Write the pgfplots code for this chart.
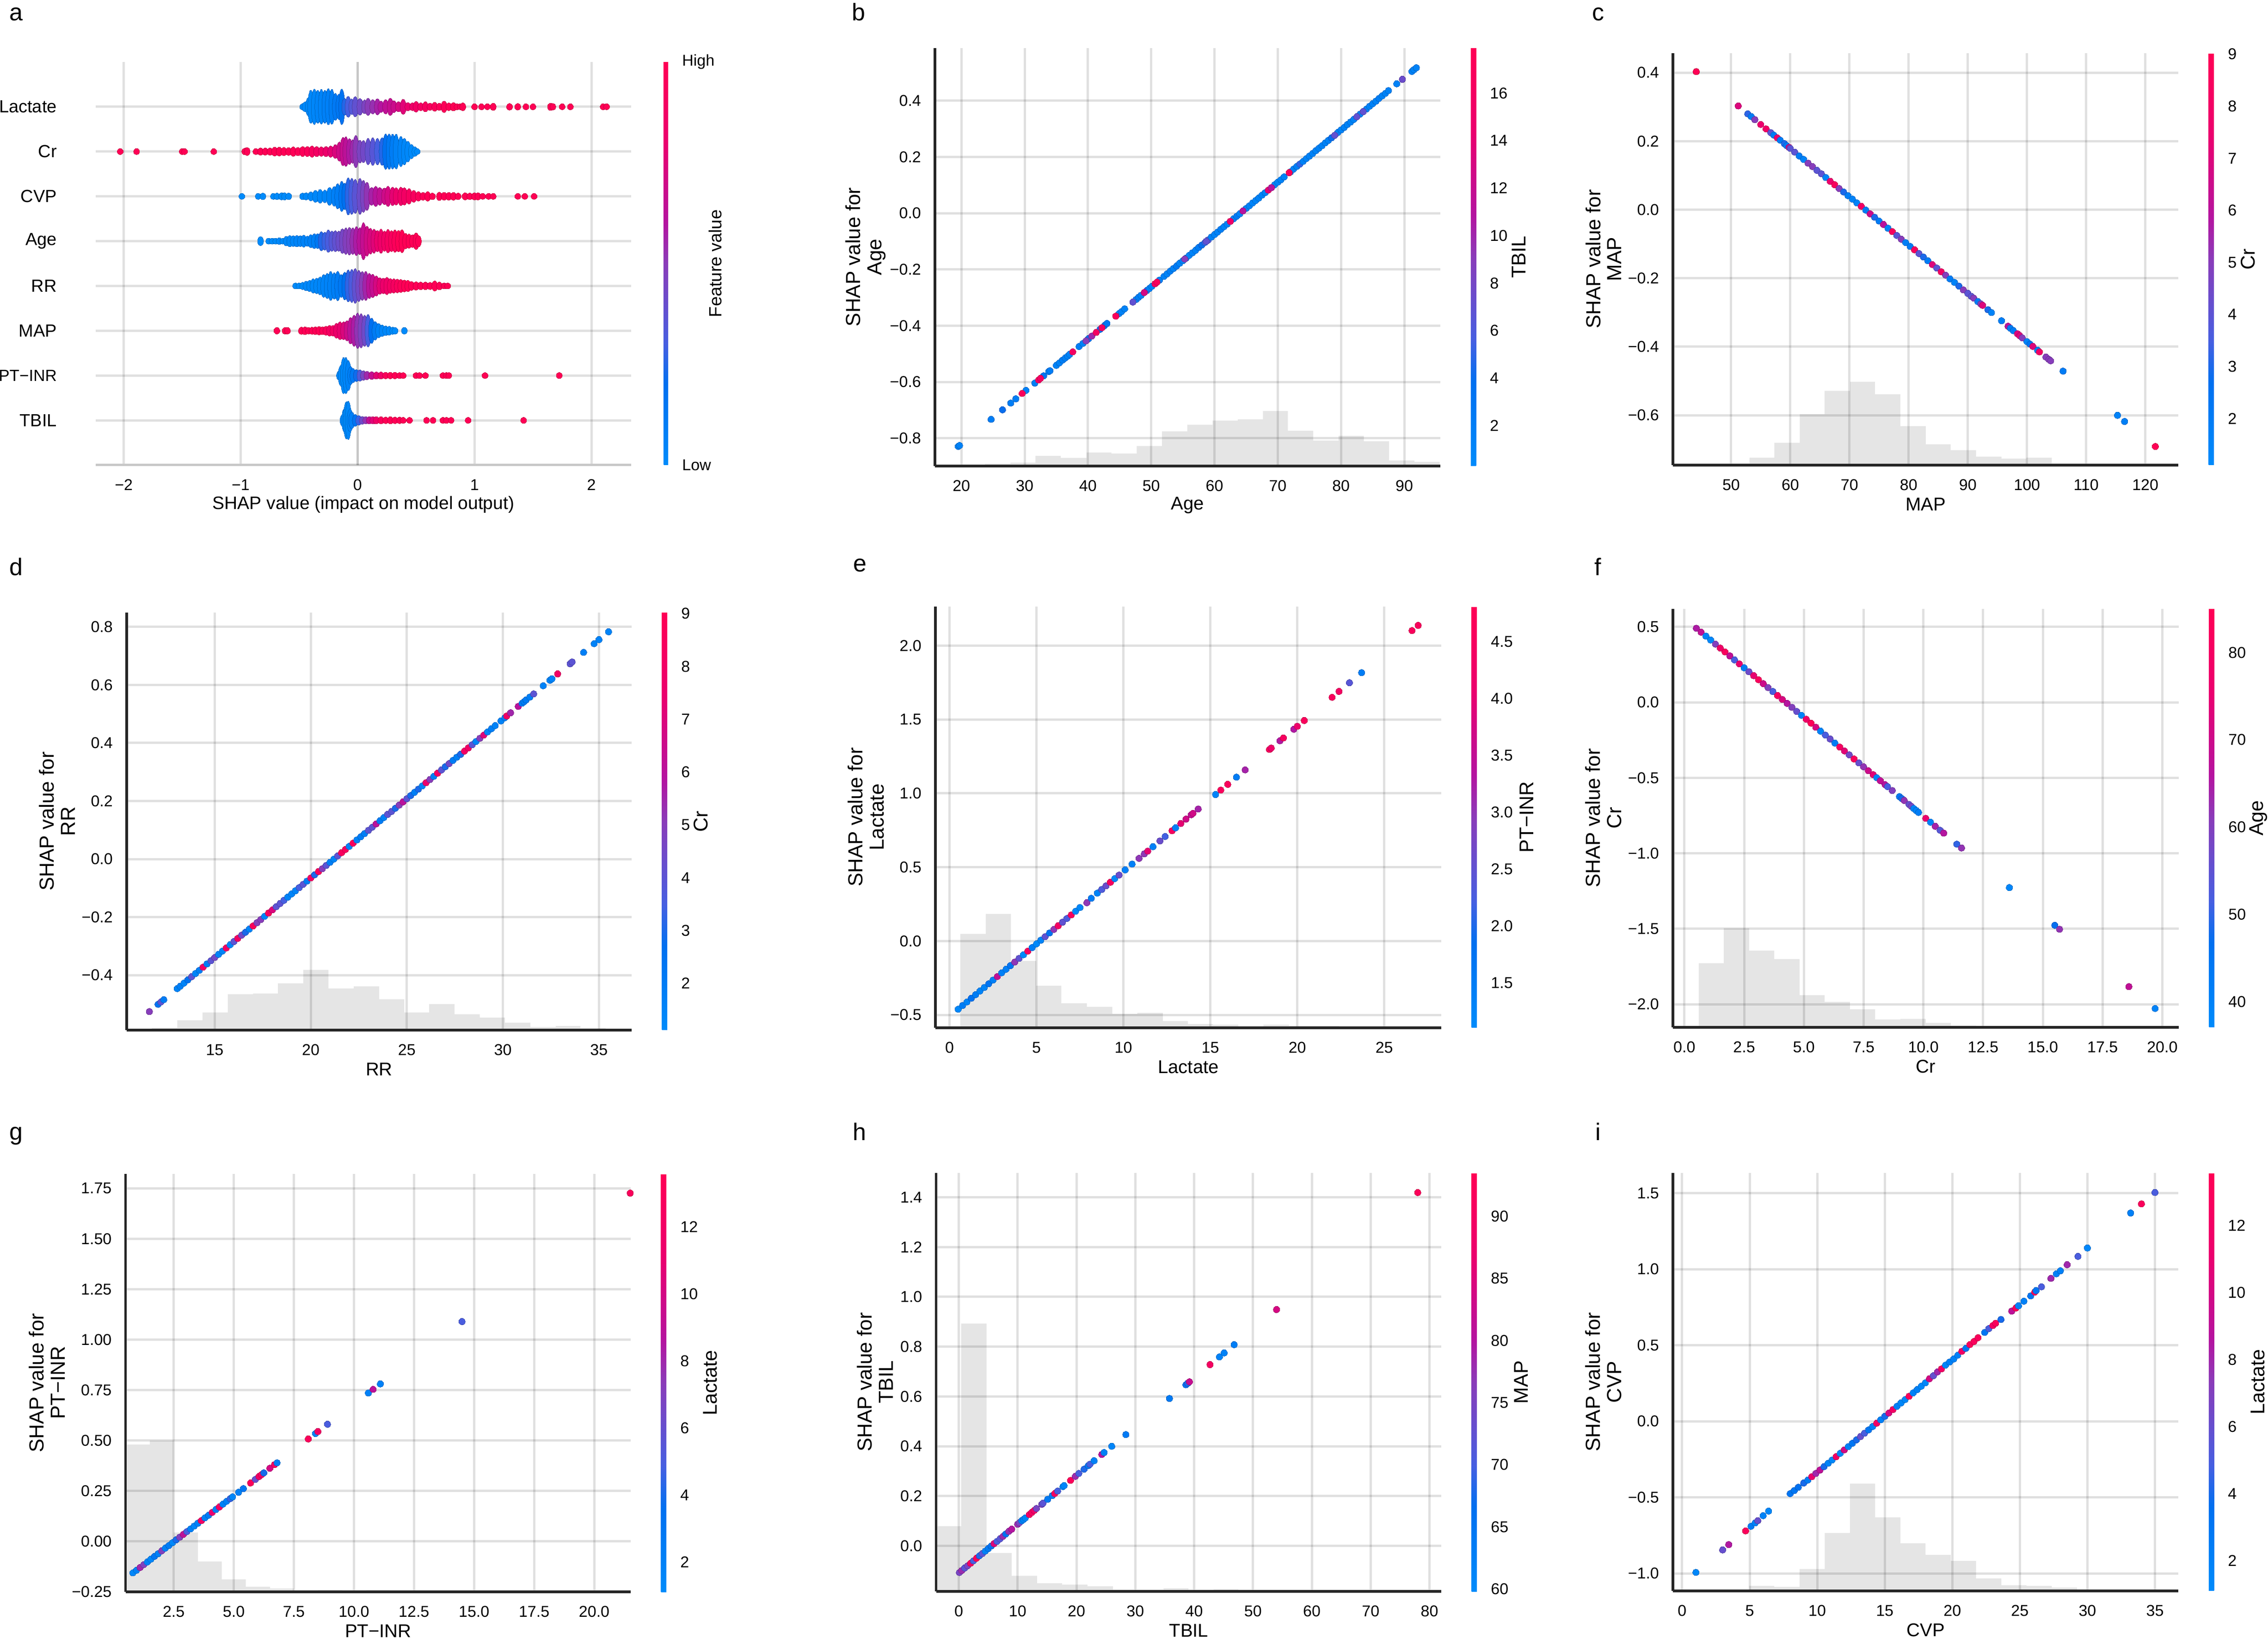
\documentclass[border=0pt]{standalone}
\usepackage{fontspec}
\setmainfont{Liberation Sans}
\usepackage{pgfplots}
\pgfplotsset{compat=1.18}
\definecolor{spine}{HTML}{262626}
\newcommand\fsT{\fontsize{6.8}{8}\selectfont}
\newcommand\fsL{\fontsize{8}{9.4}\selectfont}
\newcommand\fsR{\fontsize{8.8}{9.2}\selectfont}
\newcommand\fsC{\fontsize{8.6}{9.4}\selectfont}
\newcommand\fsP{\fontsize{10.4}{12}\selectfont}
\pgfplotsset{
 colormap={shap}{rgb255(0cm)=(0,139,251); rgb255(2cm)=(0,112,240); rgb255(3cm)=(70,95,225); rgb255(5cm)=(138,60,185); rgb255(6cm)=(180,20,160); rgb255(8cm)=(235,0,110); rgb255(10cm)=(255,0,85)},
 colormap name=shap,
 geo/.style n args={4}{at={(#1pt,#2pt)},width=#3pt,height=#4pt,anchor=south west,scale only axis},
 lim/.style n args={4}{xmin=#1,xmax=#2,ymin=#3,ymax=#4},
 hst/.style={hide axis,ymin=0},
 dep/.style={axis x line=bottom,axis y line=left,axis line style={-,color=spine,line width=1.1pt},
  grid=major,major grid style={draw=black,draw opacity=.12,line width=1pt},major tick length=0pt,tick style={draw=none},
  x tick label style={font=\fsT,yshift=-2.7pt},y tick label style={font=\fsT,xshift=-2.5pt},
  xlabel style={at={(rel axis cs:.5,0)},anchor=center,yshift=-17pt,font=\fsL},
  ylabel style={at={(rel axis cs:0,.5)},anchor=center,yshift=30pt,align=center,font=\fsR},
  colorbar,
  colorbar style={at={(parent axis.north east)},anchor=north west,xshift=4.6pt,width=2.3pt,
   scale only axis,axis line style={draw=none},major tick length=0pt,tick style={draw=none},
   y tick label style={font=\fsT,xshift=2.5pt},
   ylabel style={at={(rel axis cs:1,.5)},anchor=center,font=\fsC}}},
 cb/.style n args={6}{point meta min=#1,point meta max=#2,
   colorbar style={ytick={#3},yticklabels={#4},ylabel={#5},ylabel style={yshift=-#6pt}}},
 pts/.style={scatter,only marks,mark=*,mark size=1.4pt,scatter src=explicit,mark options={line width=0pt}},
 hbar/.style={const plot,fill=black,fill opacity=.1,draw=none},
}
\pgfplotstableset{row sep=\\}
\begin{document}
\begin{tikzpicture}
\useasboundingbox (0,0) rectangle (981pt,708.8pt);
% panel letters
\node[anchor=base,font=\fsP] at (7pt,699.9pt) {a};
\node[anchor=base,font=\fsP] at (371.4pt,699.9pt) {b};
\node[anchor=base,font=\fsP] at (691.2pt,699.9pt) {c};
\node[anchor=base,font=\fsP] at (7pt,459.9pt) {d};
\node[anchor=base,font=\fsP] at (372pt,461.4pt) {e};
\node[anchor=base,font=\fsP] at (691.2pt,459.9pt) {f};
\node[anchor=base,font=\fsP] at (7pt,215.6pt) {g};
\node[anchor=base,font=\fsP] at (371.8pt,215.4pt) {h};
\node[anchor=base,font=\fsP] at (691.2pt,215.4pt) {i};

% ---------- a ----------
\begin{axis}[geo={41.4}{507.6}{231.6}{174.4},lim={-2.24}{2.34}{-1}{8},
 axis x line=bottom,axis y line=left,x axis line style={-,color=black!22,line width=1pt},y axis line style={-,draw=none},
 grid=major,major grid style={draw=black,draw opacity=.12,line width=1pt},major tick length=0pt,tick style={draw=none},
 xtick={-2,-1,1,2},xticklabels={−2,−1,1,2},
 extra x ticks={0},extra x tick labels={0},extra x tick style={major grid style={draw=black,draw opacity=.22,line width=1.1pt}},
 ytick={0,1,2,3,4,5,6,7},yticklabels={TBIL,{\fontsize{7}{8}\selectfont PT−INR},MAP,RR,Age,CVP,Cr,Lactate},
 x tick label style={font=\fsT,yshift=-2.7pt},y tick label style={font=\fontsize{7.6}{9}\selectfont,xshift=-13.3pt},
 xlabel={SHAP value (impact on model output)},xlabel style={at={(rel axis cs:.5,0)},anchor=center,yshift=-17pt,font=\fontsize{7.8}{9}\selectfont},
 colorbar,point meta min=0,point meta max=1,
 colorbar style={at={(parent axis.north east)},anchor=north west,xshift=5.6pt,width=1.9pt,scale only axis,
  axis line style={draw=none},major tick length=0pt,tick style={draw=none},ytick={0,1},yticklabels={Low,High},
  y tick label style={font=\fsT,xshift=2.5pt},ylabel={Feature value},
  ylabel style={at={(rel axis cs:1,.5)},anchor=center,yshift=-20.4pt,font=\fontsize{7.6}{9}\selectfont}},
]
\addplot[pts,mark size=1.3pt,visualization depends on={\thisrowno{3}\as\ss},scatter/@pre marker code/.append style={/tikz/yscale=\ss}]
 table[x index=0,y index=1,meta index=2]{
-.47 7 .02 1\\-.45 7 .02 1.6\\-.42 7 .03 3\\-.40 7 .03 5.5\\-.37 7 .04 5.9\\-.34 7 .05 5.5\\-.31 7 .06 5.8\\-.28 7 .08 5.5\\-.25 7 .08 6\\-.22 7 .1 5.8\\-.19 7 .13 4.5\\-.16 7 .15 4.2\\-.135 7 .18 5.9\\-.11 7 .25 2.8\\-.08 7 .3 3.5\\-.05 7 .34 2.6\\-.02 7 .38 3.4\\.02 7 .42 2.8\\.06 7 .46 2.3\\.09 7 .5 2.9\\.13 7 .53 2.4\\.17 7 .57 2.7\\.2 7 .6 1.9\\.24 7 .64 2.4\\.28 7 .66 2.9\\.31 7 .68 2\\.35 7 .72 1.7\\.39 7 .76 2.5\\.43 7 .8 1.4\\.47 7 .84 1.3\\.5 7 .87 1.8\\.54 7 .89 1.3\\.58 7 .92 1.7\\.62 7 .93 1.2\\.66 7 .95 1.5\\.7 7 .96 1.2\\.74 7 .98 1.9\\.78 7 .99 1.3\\.82 7 1 1.4\\.85 7 1 1\\.88 7 1 1\\.9 7 1 1.3\\1 7 1 1\\1.06 7 1 1\\1.11 7 1 1\\1.16 7 1 1.2\\1.3 7 1 1.1\\1.37 7 1 1.1\\1.44 7 1 1\\1.5 7 1 1\\1.65 7 1 1.2\\1.67 7 1 1.1\\1.75 7 1 1\\1.82 7 1 1\\2.1 7 1 1\\2.13 7 1 1\\
-2.03 6 1 1\\-1.89 6 1 1\\-1.5 6 1 1\\-1.48 6 1 1\\-1.23 6 1 1\\-.965 6 1 1.1\\-.945 6 1 1.3\\-.87 6 1 1\\-.83 6 1 1.2\\-.79 6 1 1.2\\-.75 6 1 1.2\\-.71 6 1 1.5\\-.67 6 1 1.5\\-.63 6 1 1.4\\-.59 6 1 1.3\\-.55 6 .99 1.6\\-.51 6 .98 1.4\\-.47 6 .97 1.7\\-.43 6 .95 1.7\\-.39 6 .92 1.9\\-.35 6 .89 1.7\\-.31 6 .86 1.6\\-.27 6 .82 1.7\\-.23 6 .78 1.9\\-.19 6 .74 2.3\\-.155 6 .7 3.2\\-.125 6 .66 4.7\\-.1 6 .63 4.9\\-.07 6 .59 4.3\\-.04 6 .55 3.9\\-.015 6 .51 5.4\\.02 6 .46 3.8\\.05 6 .43 3.7\\.09 6 .39 4.4\\.13 6 .35 4.6\\.17 6 .3 4.4\\.21 6 .25 4.6\\.24 6 .19 5.9\\.27 6 .14 5.9\\.30 6 .1 5.8\\.33 6 .07 5.8\\.37 6 .05 5\\.40 6 .03 4.4\\.43 6 .02 3.5\\.46 6 .01 2.4\\.49 6 0 1.6\\.51 6 0 1\\
-.99 5 0 1\\-.85 5 0 1\\-.81 5 0 1.1\\-.72 5 0 1\\-.69 5 .01 1.1\\-.65 5 .01 1.2\\-.625 5 .01 1.2\\-.59 5 .01 1.1\\-.47 5 .02 1.1\\-.44 5 .02 1.2\\-.4 5 .03 1.5\\-.36 5 .03 2\\-.32 5 .04 2.3\\-.28 5 .05 2.1\\-.24 5 .06 3\\-.2 5 .08 3.3\\-.17 5 .1 4.2\\-.135 5 .15 5\\-.11 5 .2 4.4\\-.08 5 .26 6.2\\-.05 5 .31 6\\-.02 5 .36 5.7\\.02 5 .41 6\\.05 5 .46 5.3\\.08 5 .52 4.7\\.12 5 .57 3\\.155 5 .61 3.4\\.19 5 .64 3\\.23 5 .69 2.8\\.26 5 .72 3.4\\.3 5 .78 3.1\\.33 5 .82 2.9\\.37 5 .85 3.1\\.4 5 .88 2.9\\.44 5 .91 2.6\\.48 5 .93 2\\.52 5 .96 1.6\\.56 5 .98 1.3\\.6 5 1 1.6\\.64 5 1 1.1\\.7 5 1 1.4\\.74 5 1 1.3\\.78 5 1 1.3\\.82 5 1 1.3\\.86 5 1 1.1\\.92 5 1 1.2\\.96 5 1 1.1\\1 5 1 1.2\\1.03 5 1 1.2\\1.07 5 1 1\\1.12 5 1 1\\1.16 5 1 1\\1.37 5 1 1\\1.43 5 1 1\\1.51 5 1 1\\
-.83 4 0 1.5\\-.76 4 0 1\\-.73 4 .01 1\\-.7 4 .01 1\\-.67 4 .02 1.1\\-.64 4 .02 1\\-.61 4 .03 1.6\\-.58 4 .03 1.9\\-.55 4 .04 1.8\\-.52 4 .05 1.9\\-.49 4 .05 1.8\\-.46 4 .06 2\\-.43 4 .07 1.7\\-.4 4 .08 2.2\\-.37 4 .09 2.5\\-.34 4 .14 2.5\\-.31 4 .25 3.2\\-.28 4 .28 3\\-.25 4 .31 3.7\\-.22 4 .35 3.4\\-.19 4 .38 3.5\\-.16 4 .41 3.4\\-.13 4 .44 4.1\\-.1 4 .48 4.4\\-.07 4 .5 4.6\\-.04 4 .54 4.4\\-.01 4 .58 4.8\\.02 4 .62 4.5\\.05 4 .66 6.2\\.08 4 .7 5\\.11 4 .73 4.3\\.14 4 .76 4\\.17 4 .8 3.6\\.2 4 .84 4\\.23 4 .87 3.4\\.26 4 .9 3.9\\.29 4 .93 3.5\\.32 4 .96 3.7\\.35 4 .99 3.6\\.38 4 1 3.8\\.41 4 1 2.6\\.44 4 1 2.4\\.47 4 1 2.1\\.5 4 1 2.8\\.52 4 1 1.9\\
-.53 3 0 1\\-.50 3 .01 1\\-.47 3 .01 1.2\\-.44 3 .02 1.6\\-.41 3 .02 1.9\\-.38 3 .03 2.4\\-.35 3 .03 2.6\\-.32 3 .04 3\\-.29 3 .05 3.8\\-.26 3 .06 4.2\\-.23 3 .07 4.8\\-.2 3 .09 4.4\\-.17 3 .11 4.9\\-.14 3 .14 3.8\\-.11 3 .2 4.6\\-.08 3 .27 5.3\\-.05 3 .32 5.5\\-.02 3 .38 5.8\\.01 3 .43 5.2\\.04 3 .5 4.8\\.07 3 .56 4.8\\.1 3 .62 4.2\\.13 3 .66 3.9\\.16 3 .72 3.4\\.19 3 .77 2.8\\.22 3 .82 2.6\\.25 3 .85 2.9\\.28 3 .88 2.5\\.31 3 .91 2.4\\.34 3 .94 2.3\\.37 3 .97 2.2\\.4 3 1 2\\.43 3 1 1.9\\.46 3 1 1.5\\.5 3 1 1.4\\.54 3 1 1.3\\.58 3 1 1.3\\.62 3 1 1.2\\.66 3 1 1.7\\.7 3 1 1.3\\.74 3 1 1\\.77 3 1 1\\
.4 2 0 1.1\\-.69 2 1 1.1\\-.62 2 1 1.1\\-.6 2 1 1.1\\-.48 2 1 1.2\\-.45 2 1 1.3\\-.42 2 1 1.1\\-.39 2 1 1.2\\-.36 2 1 1.3\\-.33 2 .99 1.4\\-.3 2 .97 1.3\\-.27 2 .95 1.5\\-.24 2 .9 1.8\\-.21 2 .87 1.8\\-.18 2 .82 2.5\\-.15 2 .79 3\\-.12 2 .74 3\\-.09 2 .69 3.4\\-.06 2 .63 4.4\\-.03 2 .58 5.2\\0 2 .52 5.9\\.03 2 .47 5.7\\.06 2 .42 5.2\\.09 2 .3 5.4\\.12 2 .2 4.2\\.15 2 .12 3.1\\.18 2 .07 2.4\\.21 2 .04 1.9\\.24 2 .03 1.6\\.27 2 .02 1.5\\.3 2 .01 1.2\\.32 2 0 1.1\\
-.155 1 .02 1.6\\-.14 1 .02 3.5\\-.12 1 .03 6\\-.10 1 .04 6\\-.08 1 .06 5\\-.06 1 .09 3\\-.04 1 .13 2.4\\-.01 1 .22 2\\.02 1 .33 1.9\\.05 1 .45 1.6\\.08 1 .55 1.4\\.12 1 .66 1.3\\.16 1 .77 1.2\\.2 1 .85 1.2\\.24 1 .95 1.1\\.28 1 1 1.1\\.32 1 1 1.1\\.36 1 1 1\\.39 1 1 1\\.5 1 1 1\\.53 1 1 1\\.58 1 1 1\\.73 1 1 1\\.76 1 1 1\\.78 1 1 1\\1.09 1 1 1\\1.725 1 1 1\\
-.125 0 .02 2\\-.11 0 .02 4\\-.095 0 .02 6.2\\-.08 0 .03 6.4\\-.065 0 .05 3.8\\-.05 0 .08 2.8\\-.02 0 .17 2\\.01 0 .28 1.6\\.04 0 .42 1.3\\.07 0 .52 1.2\\.1 0 .65 1.2\\.13 0 .76 1.2\\.16 0 .85 1.2\\.2 0 .95 1.2\\.24 0 1 1.1\\.28 0 1 1.2\\.32 0 1 1.1\\.36 0 1 1.1\\.39 0 1 1\\.445 0 1 1\\.59 0 1 1\\.645 0 1 1\\.73 0 1 1\\.76 0 1 1\\.8 0 1 1\\.945 0 1 1\\1.42 0 1 1\\
};
\end{axis}

% ---------- b ----------
\begin{axis}[geo={404.4}{507.2}{218.6}{180.8},hst,xmin=15.82,xmax=95.7,ymax=1233]
\addplot[hbar] coordinates {(15.82,3)(19.8,0)(23.7,7)(27.76,10)(31.7,30)(35.7,24)(39.8,40)(43.7,37)(47.7,59)(51.7,102)(55.7,122)(59.7,134)(63.7,138)(67.65,162)(71.6,104)(75.6,75)(79.6,89)(83.6,73)(87.6,16)(91.6,12)(95.6,0)} \closedcycle;
\end{axis}
\begin{axis}[geo={404.4}{507.2}{218.6}{180.8},dep,lim={15.82}{95.7}{-.899}{.587},
 xtick={20,30,40,50,60,70,80,90},xticklabels={20,30,40,50,60,70,80,90},
 ytick={-.8,-.6,-.4,-.2,0,.2,.4},yticklabels={−0.8,−0.6,−0.4,−0.2,0.0,0.2,0.4},
 xlabel={Age},ylabel={SHAP value for\\Age},
 cb={.3}{17.9}{2,4,6,8,10,12,14,16}{2,4,6,8,10,12,14,16}{TBIL}{18.4}]
\addplot[pts] table[x index=0,y index=1,meta index=2]{
19.5 -.829 1.5\\19.7 -.826 1.5\\24.7 -.733 2\\26.5 -.699 4\\27.8 -.675 2\\28.6 -.66 2\\30.2 -.63 1.5\\31.6 -.604 1.8\\33 -.578 3\\33.8 -.563 2\\34 -.56 2\\35 -.541 1.5\\35.5 -.532 1.5\\36 -.522 2\\36.4 -.515 2\\36.8 -.508 1.5\\37.1 -.502 1.5\\38.6 -.474 2\\39.2 -.463 1.5\\40.1 -.446 4\\41.9 -.413 4\\42.6 -.4 4\\43 -.392 3\\44.9 -.357 1.5\\45.3 -.35 1.5\\45.8 -.34 1.5\\47.6 -.307 1.5\\48 -.299 2\\48.4 -.292 1.5\\49.3 -.275 4\\49.7 -.268 1.5\\50.1 -.26 1.5\\51.3 -.238 1.5\\
52 -.225 1.5\\52.5 -.216 1.3\\53 -.206 1.8\\53.5 -.197 1.5\\54 -.188 2.5\\54.5 -.178 1.3\\55 -.169 1.5\\55.5 -.16 2\\56 -.15 1.4\\56.5 -.141 1.4\\57 -.132 1.6\\57.5 -.122 2.2\\58 -.113 4\\58.5 -.104 5\\59 -.095 6\\59.5 -.085 1.5\\60 -.076 1.3\\60.5 -.067 1.3\\61 -.057 1.8\\61.5 -.048 1.3\\62 -.039 1.5\\63 -.02 1.5\\63.5 -.011 2.5\\64 -.002 1.5\\65 .017 1.3\\65.5 .026 1.5\\66 .036 1.3\\66.5 .045 1.3\\67 .054 1.5\\67.5 .064 1.5\\68 .073 1.5\\69.5 .101 1.3\\70 .11 1.5\\70.5 .119 1.3\\71 .129 1.5\\72 .147 1.5\\72.5 .157 1.5\\73 .166 1.8\\73.5 .175 5\\74 .184 1.5\\74.5 .194 1.3\\75 .203 1.5\\75.5 .212 1.5\\76 .222 1.3\\76.5 .231 1.5\\77 .24 1.5\\77.5 .25 1.5\\78 .259 1.5\\78.5 .268 4\\79.5 .287 1.5\\80 .296 1.3\\80.5 .305 1.5\\81 .315 1.5\\81.5 .324 1.5\\82 .333 1.5\\83 .352 1.5\\84 .37 1.5\\84.5 .38 1.5\\85 .389 1.5\\85.5 .398 1.5\\86 .408 2\\86.5 .417 1.5\\87 .426 1.5\\87.5 .436 1.5\\88.8 .46 1.5\\91.2 .504 1.5\\91.5 .51 1.5\\91.9 .517 1.5\\
29.6 -.641 17\\32.2 -.593 16\\32.5 -.587 16\\37.6 -.493 16\\39.7 -.454 9\\40.6 -.437 10\\41.3 -.424 16\\42.2 -.407 16\\44.4 -.366 17\\47.1 -.316 7\\48.9 -.282 13\\50.6 -.251 16\\50.9 -.245 17\\55.3 -.163 9\\58.7 -.1 7\\62.5 -.029 15\\64.5 .008 11\\68.5 .082 14\\69 .091 11\\71.8 .144 17\\79 .277 7\\82.5 .343 7\\83.5 .361 7\\89.7 .476 7.5\\
};
\end{axis}

% ---------- c ----------
\begin{axis}[geo={723.6}{507.6}{218.6}{178.2},hst,xmin=40.16,xmax=125.58,ymax=1215]
\addplot[hbar] coordinates {(48.7,2)(53.1,22)(57.3,66)(61.6,150)(65.8,219)(70.1,246)(74.3,209)(78.6,115)(82.9,61)(87.1,44)(91.4,25)(95.7,19)(99.9,22)(104.2,0)(112.7,2)(117,0)} \closedcycle;
\end{axis}
\begin{axis}[geo={723.6}{507.6}{218.6}{178.2},dep,lim={40.16}{125.58}{-.7455}{.457},
 xtick={50,60,70,80,90,100,110,120},xticklabels={50,60,70,80,90,100,110,120},
 ytick={-.6,-.4,-.2,0,.2,.4},yticklabels={−0.6,−0.4,−0.2,0.0,0.2,0.4},
 xlabel={MAP},ylabel={SHAP value for\\MAP},
 cb={1.108}{9.02}{2,3,4,5,6,7,8,9}{2,3,4,5,6,7,8,9}{Cr}{14.6}]
\addplot[pts] table[x index=0,y index=1,meta index=2]{
44.1 .403 9\\51.2 .303 7\\52.8 .28 3.2\\53.4 .272 2\\54 .263 5\\55 .249 7.5\\55.9 .236 8\\56.7 .225 4\\57.2 .218 2\\57.8 .21 7.5\\58.3 .203 2\\59 .193 3\\59.4 .187 2\\59.8 .182 6.5\\
60 .179 4\\60.75 .168 4\\61.5 .157 2\\62.25 .147 1.6\\63 .136 5\\63.75 .126 5\\64.5 .115 4\\65.25 .105 4\\66 .094 1.6\\66.75 .083 7.5\\67.5 .073 8.5\\68.25 .062 5\\69 .052 3\\69.75 .041 1.8\\70.5 .031 1.6\\71.25 .02 1.6\\72 .01 8\\72.75 -.001 2\\73.5 -.012 6.5\\74.25 -.022 3\\75 -.033 2\\75.75 -.043 6\\76.5 -.054 1.6\\77.25 -.064 8.5\\78 -.075 4\\78.75 -.086 5\\79.5 -.096 1.8\\80.25 -.107 2\\81 -.117 8.5\\81.75 -.128 4\\82.5 -.138 3\\83.25 -.149 2\\84 -.16 7\\84.75 -.17 4\\85.5 -.181 8\\86.25 -.191 5\\87 -.202 2\\87.75 -.212 1.6\\88.5 -.223 3\\89.25 -.234 5\\90 -.244 4\\
90.6 -.253 4\\91 -.258 5\\91.7 -.268 2\\92.2 -.275 5\\92.5 -.279 7\\93.4 -.292 3\\94 -.3 1.6\\95.7 -.324 1.8\\96.8 -.34 6\\97.2 -.346 2\\97.7 -.353 2\\98.4 -.362 7\\98.8 -.368 7\\99.2 -.374 5\\100 -.385 1.6\\100.5 -.392 2.5\\101 -.399 7\\101.8 -.41 2\\102.1 -.415 8\\103.2 -.43 5\\103.7 -.437 5\\104 -.441 5\\106.1 -.471 2\\115.3 -.6 1.6\\116.5 -.618 1.8\\121.7 -.691 9\\
};
\end{axis}

% ---------- d ----------
\begin{axis}[geo={54.8}{263.2}{218.4}{180.6},hst,xmin=10.42,xmax=36.7,ymax=1232]
\addplot[hbar] coordinates {(11.73,7)(13.05,29)(14.37,52)(15.68,106)(17,108)(18.29,138)(19.61,178)(20.92,123)(22.24,129)(23.56,91)(24.87,52)(26.16,77)(27.48,47)(28.8,37)(30.11,22)(31.43,9)(32.75,12)(34.04,6)(35.35,0)} \closedcycle;
\end{axis}
\begin{axis}[geo={54.8}{263.2}{218.4}{180.6},dep,lim={10.42}{36.7}{-.589}{.849},
 xtick={15,20,25,30,35},xticklabels={15,20,25,30,35},
 ytick={-.4,-.2,0,.2,.4,.6,.8},yticklabels={−0.4,−0.2,0.0,0.2,0.4,0.6,0.8},
 xlabel={RR},ylabel={SHAP value for\\RR},
 cb={1.115}{9.02}{2,3,4,5,6,7,8,9}{2,3,4,5,6,7,8,9}{Cr}{14.6}]
\addplot[pts] table[x index=0,y index=1,meta index=2]{
11.6 -.525 5\\12.05 -.5 2.5\\12.2 -.492 4\\12.35 -.484 2\\13.05 -.446 1.5\\13.2 -.438 1.8\\13.4 -.427 1.5\\13.6 -.416 2.5\\13.8 -.405 4\\
14 -.394 1.5\\14.2 -.383 1.8\\14.4 -.372 8\\14.6 -.361 2\\14.8 -.35 4\\15 -.339 4.5\\15.2 -.328 1.5\\15.4 -.317 1.5\\15.6 -.306 8\\15.8 -.295 1.5\\16 -.284 4\\16.2 -.273 8\\16.4 -.262 4.5\\16.6 -.252 3\\16.8 -.241 1.5\\17 -.23 8.5\\17.2 -.219 5\\17.4 -.208 5\\17.6 -.197 1.5\\17.8 -.186 8.5\\18 -.175 7\\18.2 -.164 4\\18.4 -.153 4\\18.6 -.142 3.5\\18.8 -.131 1.6\\19 -.12 1.5\\19.2 -.109 1.6\\19.4 -.098 3.5\\19.6 -.087 4\\19.8 -.076 2\\20 -.065 8\\20.2 -.054 3\\20.4 -.043 8.5\\20.6 -.033 5\\20.8 -.022 4\\21 -.011 1.8\\21.2 0 1.5\\21.4 .011 4\\21.6 .022 8.5\\21.8 .033 8.5\\22 .044 1.6\\22.2 .055 8.5\\22.4 .066 1.6\\22.6 .077 2\\22.8 .088 1.8\\23 .099 4\\23.2 .11 4\\23.4 .121 6\\23.6 .132 2\\23.8 .143 1.6\\24 .154 4\\24.2 .164 4\\24.4 .175 3\\24.6 .186 5\\24.8 .197 6\\25 .208 4\\25.2 .219 3\\25.4 .23 1.8\\25.6 .241 3\\25.8 .252 1.5\\26 .263 7.5\\26.2 .274 5\\26.4 .285 1.8\\26.6 .296 8\\26.8 .307 4\\27 .318 3\\27.2 .329 4.5\\27.4 .34 2\\27.6 .351 1.8\\27.8 .361 3\\28 .372 8\\28.2 .383 8\\28.4 .394 4\\28.6 .405 1.6\\28.8 .416 5\\29 .427 7\\29.2 .438 1.5\\29.4 .449 1.8\\29.6 .46 1.6\\
29.9 .476 1.6\\30.1 .487 2\\30.2 .493 8\\30.4 .504 5.5\\30.8 .526 6\\31 .537 2\\31.1 .542 2\\31.2 .548 2\\31.4 .558 1.8\\31.6 .569 4\\32.1 .597 1.6\\32.45 .616 1.6\\32.55 .621 1.6\\32.85 .638 8\\33.5 .673 4\\33.6 .679 4\\34.2 .712 1.8\\34.75 .742 1.6\\35 .756 1.6\\35.5 .783 1.5\\
};
\end{axis}

% ---------- e ----------
\begin{axis}[geo={404.6}{264.2}{218.8}{182.2},hst,xmin=-.81,xmax=28.28,ymax=1242]
\addplot[hbar] coordinates {(.62,277)(2.09,336)(3.53,197)(4.99,124)(6.43,72)(7.9,62)(9.36,41)(10.8,44)(12.27,20)(13.71,11)(15.15,9)(16.61,4)(18.05,9)(19.52,6)(20.96,6)(22.42,0)} \closedcycle;
\end{axis}
\begin{axis}[geo={404.6}{264.2}{218.8}{182.2},dep,lim={-.81}{28.28}{-.587}{2.264},
 xtick={0,5,10,15,20,25},xticklabels={0,5,10,15,20,25},
 ytick={-.5,0,.5,1,1.5,2},yticklabels={−0.5,0.0,0.5,1.0,1.5,2.0},
 xlabel={Lactate},ylabel={SHAP value for\\Lactate},
 cb={1.106}{4.81}{1.5,2,2.5,3,3.5,4,4.5}{1.5,2.0,2.5,3.0,3.5,4.0,4.5}{PT−INR}{21.4}]
\addplot[pts] table[x index=0,y index=1,meta index=2]{
.5 -.461 1.2\\.75 -.436 1.5\\1 -.412 1.3\\1.25 -.387 1.8\\1.5 -.363 1.5\\1.75 -.338 1.3\\2 -.314 1.3\\2.25 -.289 1.7\\2.5 -.264 1.4\\2.75 -.24 3.5\\3 -.215 1.4\\3.25 -.191 1.4\\3.5 -.166 1.7\\3.75 -.142 3\\4 -.117 2.5\\4.25 -.093 1.2\\4.5 -.068 4.5\\4.75 -.044 1.5\\5 -.019 1.2\\5.25 .006 1.3\\5.5 .03 2.5\\5.75 .055 1.8\\6 .079 3\\6.25 .104 4.4\\6.5 .128 2.5\\6.75 .153 2.3\\7 .177 4.5\\7.25 .202 1.2\\7.5 .227 1.2\\7.9 .26 3\\8.15 .29 1.5\\8.5 .325 1.3\\8.75 .349 2.3\\9 .374 2.6\\9.25 .398 4.5\\9.5 .423 1.2\\9.75 .447 2.6\\10.1 .482 1.4\\10.5 .521 1.4\\10.9 .56 3\\11.2 .59 3\\11.4 .609 4\\11.7 .639 1.4\\12.1 .678 2.6\\12.4 .708 2.2\\12.8 .747 4.5\\13 .767 1.4\\13.3 .796 4\\13.6 .826 3.7\\13.9 .855 3.5\\14 .865 3.7\\14.3 .894 3.2\\15.3 .992 1.3\\15.6 1.022 4.6\\16 1.061 4.6\\16.5 1.11 1.5\\17 1.159 3.2\\18.4 1.297 4.6\\18.5 1.307 4.2\\19 1.356 3.3\\19.2 1.375 4.5\\19.8 1.434 3.3\\20 1.454 4.2\\20.4 1.493 4.6\\22 1.65 4.6\\22.4 1.69 4.4\\23 1.749 2.4\\23.7 1.817 1.5\\26.6 2.102 4.6\\26.95 2.137 4.6\\
};
\end{axis}

% ---------- f ----------
\begin{axis}[geo={723.6}{264.4}{218.8}{181},hst,xmin=-.48,xmax=20.69,ymax=1233]
\addplot[hbar] coordinates {(.6,189)(1.65,292)(2.71,226)(3.76,201)(4.82,95)(5.87,75)(6.93,53)(7.98,23)(9.04,25)(10.1,13)(11.15,5)(12.21,1)(13.26,0)} \closedcycle;
\end{axis}
\begin{axis}[geo={723.6}{264.4}{218.8}{181},dep,lim={-.48}{20.69}{-2.153}{.619},
 xtick={0,2.5,5,7.5,10,12.5,15,17.5,20},xticklabels={0.0,2.5,5.0,7.5,10.0,12.5,15.0,17.5,20.0},
 ytick={-2,-1.5,-1,-.5,0,.5},yticklabels={−2.0,−1.5,−1.0,−0.5,0.0,0.5},
 xlabel={Cr},ylabel={SHAP value for\\Cr},
 cb={37.08}{85}{40,50,60,70,80}{40,50,60,70,80}{Age}{19}]
\addplot[pts] table[x index=0,y index=1,meta index=2]{
.5 .491 65\\.7 .465 68\\.9 .439 40\\1.1 .413 38\\1.3 .386 60\\1.5 .36 78\\1.7 .334 82\\1.9 .308 68\\2.1 .281 52\\2.3 .255 75\\2.5 .229 42\\2.7 .203 57\\2.9 .177 75\\3.1 .15 82\\3.3 .124 70\\3.5 .098 60\\3.7 .072 52\\3.9 .045 80\\4.1 .019 72\\4.3 -.007 66\\4.5 -.033 60\\4.7 -.06 56\\4.9 -.086 40\\5.1 -.112 78\\5.3 -.138 84\\5.5 -.165 72\\5.7 -.191 40\\5.9 -.217 52\\6.1 -.243 56\\6.3 -.27 42\\6.5 -.296 80\\6.7 -.322 74\\6.9 -.348 58\\7.1 -.375 82\\7.3 -.401 56\\7.5 -.427 62\\7.7 -.453 70\\7.9 -.479 74\\8.05 -.499 40\\8.2 -.519 68\\8.4 -.545 66\\8.5 -.558 52\\8.7 -.584 60\\9 -.624 44\\9.1 -.637 48\\9.2 -.65 62\\9.4 -.676 56\\9.5 -.689 58\\9.6 -.703 40\\9.7 -.716 40\\9.8 -.729 42\\10.1 -.768 76\\10.3 -.794 40\\10.5 -.821 64\\10.7 -.847 54\\10.85 -.866 66\\11.4 -.939 50\\11.6 -.965 62\\13.6 -1.227 39\\15.5 -1.477 47\\15.7 -1.503 62\\18.6 -1.883 68\\19.7 -2.028 40\\
};
\end{axis}

% ---------- g ----------
\begin{axis}[geo={54.3}{20.2}{218.5}{180.8},hst,xmin=.495,xmax=21.52,ymax=1240]
\addplot[hbar] coordinates {(.5,437)(1.51,449)(2.5,176)(3.51,90)(4.5,37)(5.5,15)(6.51,10)(7.5,0)(8.51,6)(9.51,0)(10.52,6)(11.5,0)} \closedcycle;
\end{axis}
\begin{axis}[geo={54.3}{20.2}{218.5}{180.8},dep,lim={.495}{21.52}{-.25}{1.822},
 xtick={2.5,5,7.5,10,12.5,15,17.5,20},xticklabels={2.5,5.0,7.5,10.0,12.5,15.0,17.5,20.0},
 ytick={-.25,0,.25,.5,.75,1,1.25,1.5,1.75},yticklabels={−0.25,0.00,0.25,0.50,0.75,1.00,1.25,1.50,1.75},
 xlabel={PT−INR},ylabel={SHAP value for\\PT−INR},ylabel style={yshift=4pt},
 cb={1.116}{13.58}{2,4,6,8,10,12}{2,4,6,8,10,12}{Lactate}{19}]
\addplot[pts] table[x index=0,y index=1,meta index=2]{
.8 -.156 1.5\\.95 -.143 2\\1.1 -.129 8\\1.25 -.115 7\\1.4 -.102 2\\1.55 -.088 1.5\\1.7 -.074 3\\1.85 -.061 2\\2 -.047 7\\2.15 -.033 2\\2.3 -.02 2.5\\2.45 -.006 1.5\\2.6 .008 4\\2.75 .021 7\\2.9 .035 9\\3.05 .049 5\\3.2 .062 2\\3.35 .076 1.5\\3.5 .09 2\\3.65 .103 12\\3.8 .117 2\\3.95 .13 2.5\\4.1 .144 11\\4.25 .158 2\\4.4 .171 12\\4.55 .185 2\\4.7 .199 2\\4.85 .212 4.5\\4.95 .221 1.5\\5.2 .244 2\\5.4 .262 3\\5.7 .29 13\\5.9 .308 6\\6.05 .322 12\\6.15 .331 12\\6.25 .34 4\\6.5 .363 10\\6.7 .381 12\\6.8 .39 2.5\\8.1 .508 13\\8.4 .535 2\\8.5 .545 12\\8.9 .581 5\\10.6 .736 2\\10.8 .754 9\\11.1 .781 2\\14.5 1.09 5\\21.5 1.727 13\\
};
\end{axis}

% ---------- h ----------
\begin{axis}[geo={404.9}{20.4}{218.5}{181},hst,xmin=-3.85,xmax=82,ymax=1240]
\addplot[hbar] coordinates {(-3.85,193)(.4,794)(4.73,114)(8.98,46)(13.31,24)(17.55,20)(21.88,15)(26.21,0)(34.79,9)(39.04,0)(43.29,7)(47.54,0)} \closedcycle;
\end{axis}
\begin{axis}[geo={404.9}{20.4}{218.5}{181},dep,lim={-3.85}{82}{-.183}{1.4976},
 xtick={0,10,20,30,40,50,60,70,80},xticklabels={0,10,20,30,40,50,60,70,80},
 ytick={0,.2,.4,.6,.8,1,1.2,1.4},yticklabels={0.0,0.2,0.4,0.6,0.8,1.0,1.2,1.4},
 xlabel={TBIL},ylabel={SHAP value for\\TBIL},ylabel style={yshift=-3.7pt},
 cb={59.81}{93.48}{60,65,70,75,80,85,90}{60,65,70,75,80,85,90}{MAP}{19}]
\addplot[pts] table[x index=0,y index=1,meta index=2]{
.1 -.107 75\\.5 -.099 78\\1 -.089 72\\1.5 -.08 75\\2 -.07 90\\2.5 -.06 70\\3 -.05 92\\3.5 -.04 68\\4 -.031 72\\4.5 -.021 62\\5 -.011 64\\5.5 -.001 66\\6 .009 85\\6.5 .018 70\\7 .028 72\\7.5 .038 78\\8 .048 66\\8.5 .058 78\\9 .067 80\\10 .087 78\\10.3 .093 75\\10.7 .101 62\\11 .106 62\\11.3 .112 61\\12 .126 90\\12.4 .134 90\\12.8 .142 88\\13.2 .15 75\\14.1 .167 75\\14.3 .171 72\\15.1 .187 64\\15.9 .202 63\\16.3 .21 90\\16.8 .22 70\\17.7 .238 61\\17.9 .242 61\\19 .263 92\\19.8 .279 78\\20.4 .291 70\\21.3 .308 68\\22 .322 65\\22.3 .328 70\\23 .342 62\\24.3 .367 80\\24.7 .375 62\\26 .4 61\\28.4 .447 64\\35.8 .592 64\\38.6 .647 66\\38.9 .653 68\\39.2 .659 82\\42.7 .728 90\\44.3 .759 62\\45.1 .775 62\\46.8 .808 63\\54 .949 84\\78 1.419 92\\
};
\end{axis}

% ---------- i ----------
\begin{axis}[geo={723.6}{20.6}{218.6}{180.8},hst,xmin=-.68,xmax=36.73,ymax=1239]
\addplot[hbar] coordinates {(4.96,15)(6.82,12)(8.69,65)(10.56,172)(12.42,318)(14.29,218)(16.16,141)(18.02,107)(19.89,89)(21.76,37)(23.63,17)(25.49,15)(27.36,10)(29.23,3)(31.1,0)} \closedcycle;
\end{axis}
\begin{axis}[geo={723.6}{20.6}{218.6}{180.8},dep,lim={-.68}{36.73}{-1.115}{1.633},
 xtick={0,5,10,15,20,25,30,35},xticklabels={0,5,10,15,20,25,30,35},
 ytick={-1,-.5,0,.5,1,1.5},yticklabels={−1.0,−0.5,0.0,0.5,1.0,1.5},
 xlabel={CVP},ylabel={SHAP value for\\CVP},
 cb={1.106}{13.56}{2,4,6,8,10,12}{2,4,6,8,10,12}{Lactate}{19}]
\addplot[pts] table[x index=0,y index=1,meta index=2]{
1.02 -.993 1.5\\3 -.845 6\\3.45 -.81 8.5\\4.7 -.72 13\\5.1 -.69 2.5\\5.4 -.668 2\\5.6 -.653 6\\6 -.62 1.8\\6.4 -.59 1.5\\
8 -.475 3\\8.3 -.455 3\\8.6 -.433 3.5\\9 -.405 4\\9.3 -.386 2.5\\9.6 -.364 11\\9.9 -.342 8\\10.2 -.32 9\\10.5 -.298 4\\10.8 -.276 1.8\\11.1 -.254 1.5\\11.4 -.232 12\\11.7 -.21 1.5\\12 -.188 10\\12.3 -.166 2\\12.6 -.144 3\\12.9 -.122 4\\13.2 -.1 6\\13.5 -.078 5\\13.8 -.056 3\\14.1 -.034 2\\14.4 -.012 12\\14.7 .01 2\\15 .033 4\\15.3 .055 10\\15.6 .077 12\\15.9 .099 2\\16.2 .121 1.5\\16.5 .143 1.5\\16.8 .165 13\\17.1 .187 2\\17.4 .209 2\\17.7 .231 1.5\\18 .253 1.5\\18.3 .28 10\\18.6 .3 6\\18.9 .325 8\\19.2 .345 12\\19.5 .37 1.5\\19.8 .39 2\\20.1 .41 2\\20.4 .435 2\\20.7 .46 12\\21 .48 3\\21.3 .505 13\\21.6 .525 13\\21.9 .55 13\\22.4 .585 3\\22.7 .61 5\\23 .63 12\\23.2 .645 13\\
23.6 .67 4\\24.4 .725 9\\24.7 .745 13\\24.9 .76 2\\25.3 .79 2\\25.8 .825 3\\26.1 .85 13\\26.2 .86 3\\26.6 .885 5\\27.3 .94 8\\27.7 .97 2\\28 .99 2\\28.5 1.03 8\\29.3 1.085 5\\30 1.14 1.5\\33.2 1.37 2\\34 1.43 13\\35 1.505 5\\
};
\end{axis}
\end{tikzpicture}
\end{document}
